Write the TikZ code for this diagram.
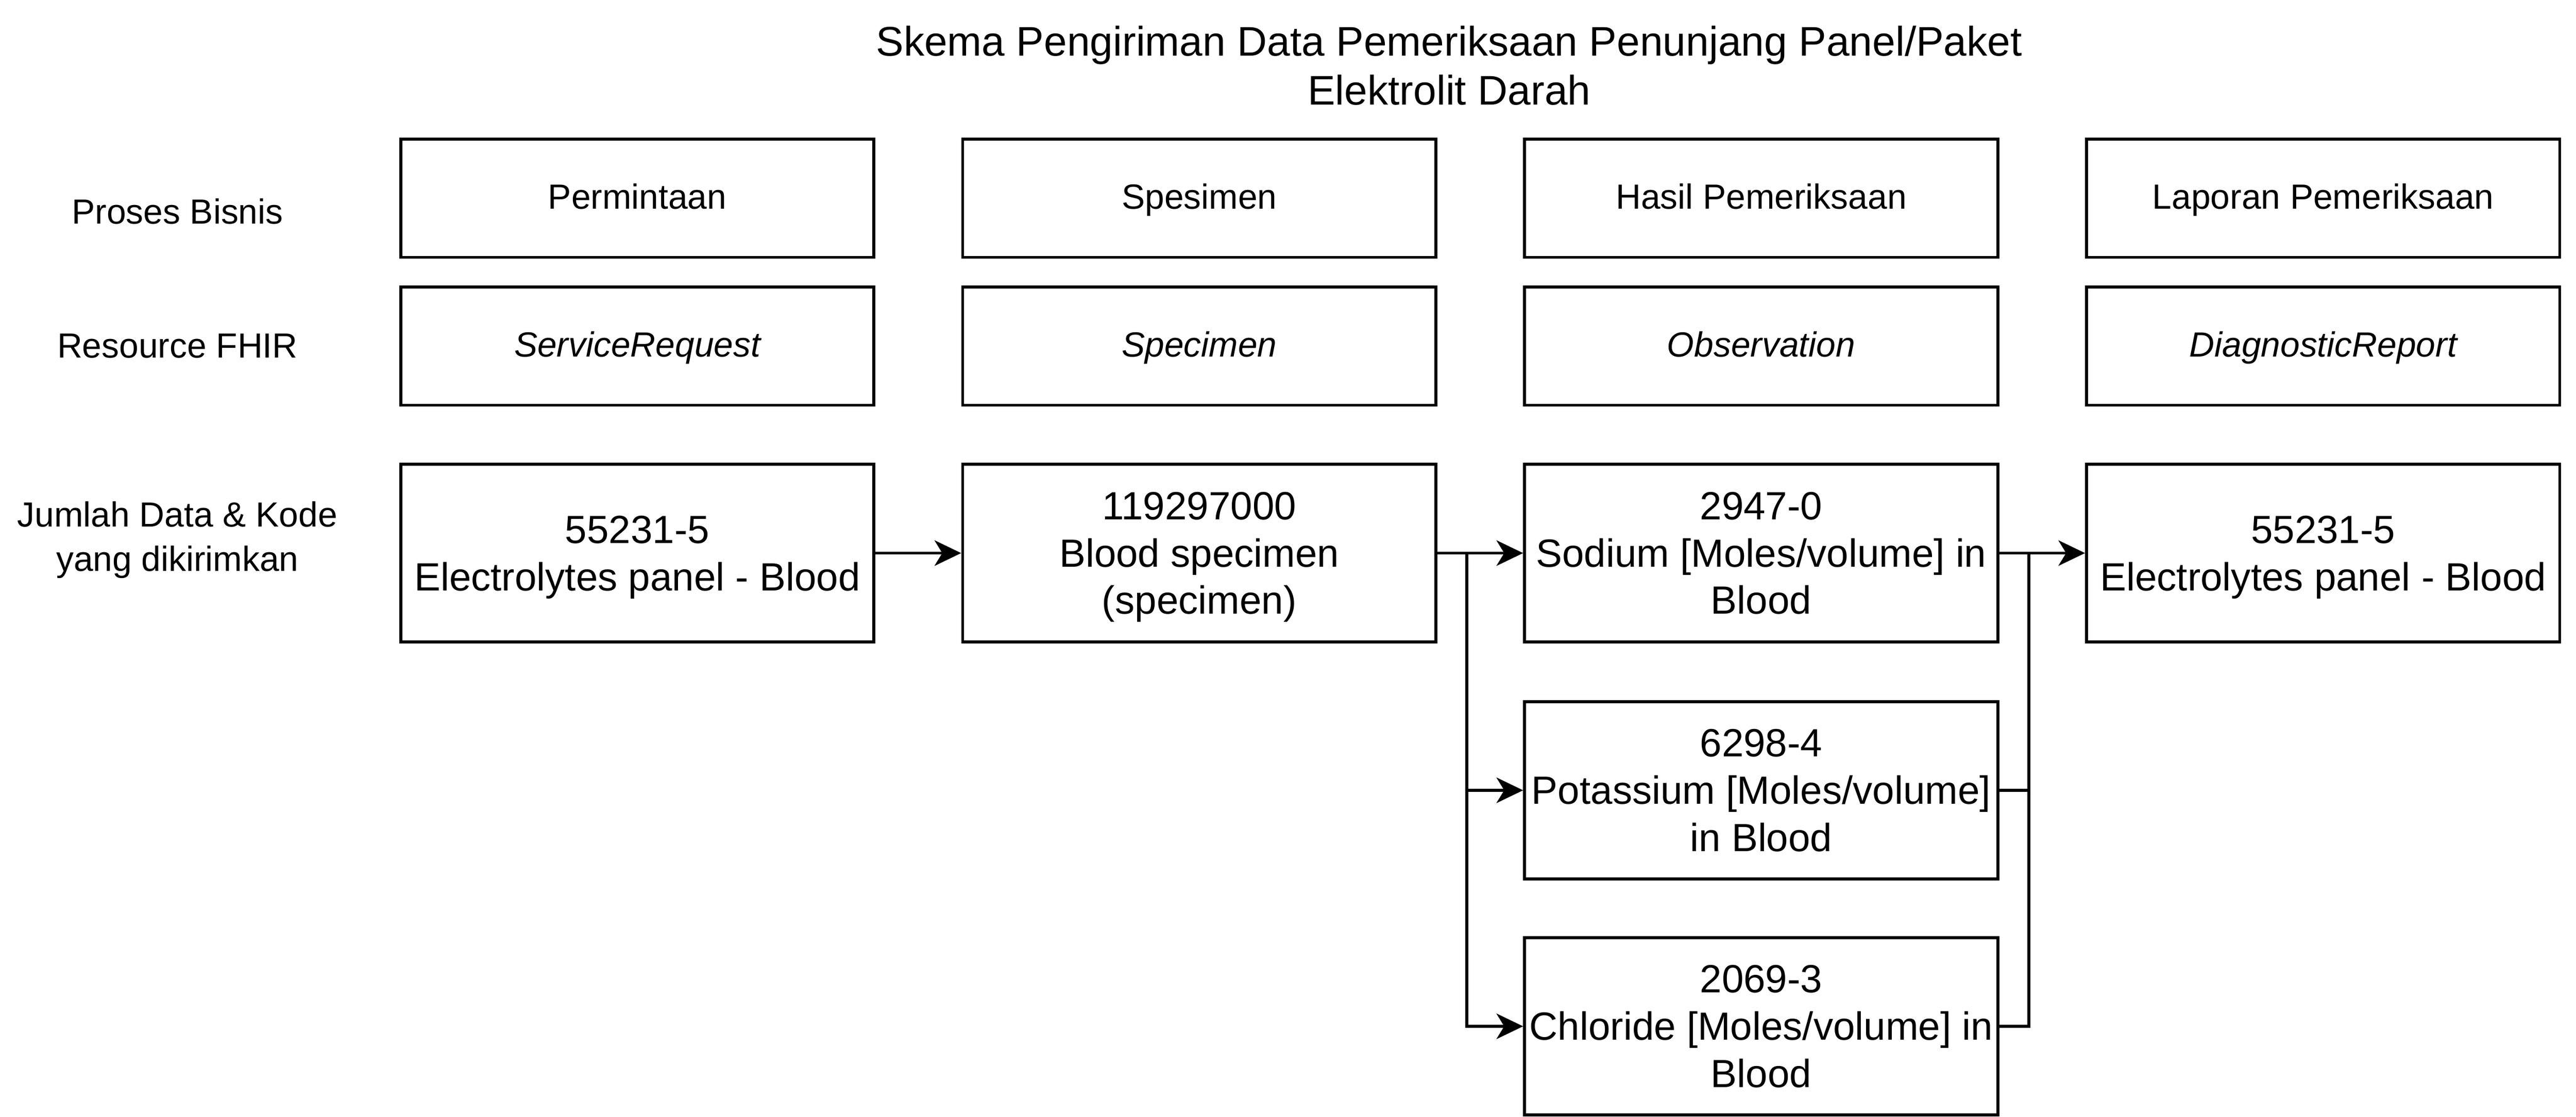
\documentclass[tikz,border=0pt]{standalone}
\usepackage{fontspec}
\setmainfont{Liberation Sans}
\usetikzlibrary{arrows.meta}
\begin{document}
\begin{tikzpicture}[x=1pt, y=-1pt]
  \useasboundingbox (0, 0) rectangle (871, 377.6);  % Seitengroesse.
  \tikzstyle{box}=[draw, line width=1pt, minimum width=160pt, minimum height=40pt, inner sep=0pt, align=center, text height=0.72em, text depth=0pt, font=\fontsize{11.8}{14}\selectfont]
  \tikzstyle{databox}=[draw, line width=1pt, minimum width=160pt, minimum height=60pt, inner sep=0pt, align=center, text depth=0pt, font=\fontsize{13.3}{16}\selectfont]
  \tikzstyle{rowlabel}=[align=center, inner sep=0pt, font=\fontsize{11.8}{15}\selectfont]
  \tikzstyle{link}=[line width=1pt, -{Stealth[length=9pt, width=8.6pt, inset=2.6pt]}]

  \node[align=center, font=\fontsize{14}{16.6}\selectfont] (title) at (490, 22.2)
    {Skema Pengiriman Data Pemeriksaan Penunjang Panel/Paket\\Elektrolit Darah};

  \node[rowlabel] (l1) at (60, 71.5)  {Proses Bisnis};
  \node[rowlabel] (l2) at (60, 117)   {Resource FHIR};
  \node[rowlabel] (l3) at (60, 182.5) {Jumlah Data \& Kode\\yang dikirimkan};

  \node[box] (b1) at (215.5, 67) {Permintaan};
  \node[box] (b2) at (405.5, 67) {Spesimen};
  \node[box] (b3) at (595.5, 67) {Hasil Pemeriksaan};
  \node[box] (b4) at (785.5, 67) {Laporan Pemeriksaan};

  \node[box] (r1) at (215.5, 117) {\itshape ServiceRequest};
  \node[box] (r2) at (405.5, 117) {\itshape Specimen};
  \node[box] (r3) at (595.5, 117) {\itshape Observation};
  \node[box] (r4) at (785.5, 117) {\itshape DiagnosticReport};

  \node[databox] (d1) at (215.5, 187)   {55231-5\\Electrolytes panel - Blood};
  \node[databox] (d2) at (405.5, 187)   {119297000\\Blood specimen\\(specimen)};
  \node[databox] (d3) at (595.5, 187)   {2947-0\\Sodium [Moles/volume] in\\Blood};
  \node[databox] (d4) at (595.5, 267.2) {6298-4\\Potassium [Moles/volume]\\in Blood};
  \node[databox] (d5) at (595.5, 347)   {2069-3\\Chloride [Moles/volume] in\\Blood};
  \node[databox] (d6) at (785.5, 187)   {55231-5\\Electrolytes panel - Blood};

  \coordinate (split) at ([xshift=10pt]d2.east);
  \coordinate (join)  at ([xshift=10pt]d3.east);

  \draw[link] (d1) -- (d2);
  \draw[line width=1pt] (d2.east) -- (split);
  \draw[link] (split) -- (d3.west);
  \draw[link] (split) |- (d4.west);
  \draw[link] (split) |- (d5.west);
  \draw[link] (d3.east) -- (d6.west);
  \draw[line width=1pt] (d4.east) -| (join);
  \draw[line width=1pt] (d5.east) -| (join);
\end{tikzpicture}
\end{document}
